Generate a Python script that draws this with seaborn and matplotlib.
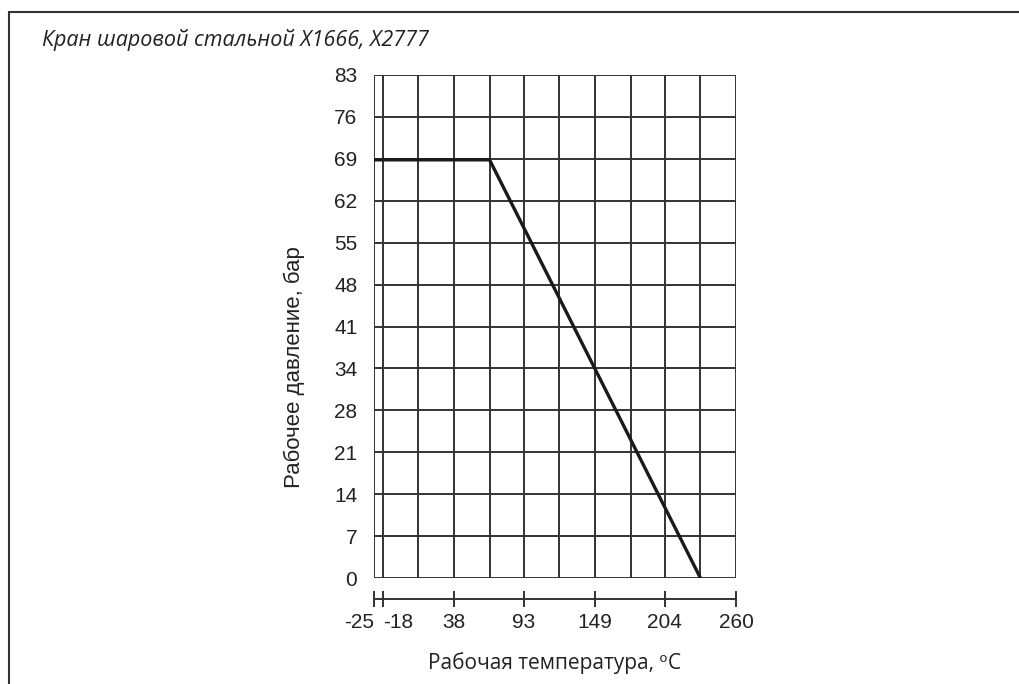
import matplotlib
matplotlib.use("Agg")
import matplotlib.pyplot as plt
import numpy as np
import pandas as pd
import seaborn as sns
from matplotlib.ticker import FixedLocator

# pressure / temperature rating curve
temperature_c = [-25, 66, 232]
pressure_bar = [69, 69, 0]

x_major = [-25, -18, 38, 93, 149, 204, 260]
x_minor = [10, 66, 121, 177, 232]
y_labels = ["0", "7", "14", "21", "28", "34", "41", "48", "55", "62", "69", "76", "83"]

title = "Кран шаровой стальной X1666, X2777"
x_title = "Рабочая температура, ᵒC"
y_title = "Рабочее давление, бар"

sns.set_theme(style="white")
plt.rcParams["font.family"] = ["Liberation Sans", "DejaVu Sans"]

df = pd.DataFrame({"t": temperature_c, "p": pressure_bar})

fig = plt.figure(figsize=(10.19, 6.84), dpi=100)
ax = fig.add_axes([374 / 1019, 1 - 578 / 684, (736 - 374) / 1019, (578 - 75) / 684])

grid_c = "#333333"
sns.lineplot(data=df, x="t", y="p", ax=ax, color="#1a1a1a", linewidth=2.4, zorder=5)

ax.set_xlim(-25, 260)
ax.set_ylim(0, 83)
ax.xaxis.set_major_locator(FixedLocator(x_major))
ax.xaxis.set_minor_locator(FixedLocator(x_minor))
ax.set_xticklabels([str(v) for v in x_major])
y_pos = np.linspace(0, 83, len(y_labels))
ax.set_yticks(y_pos)
ax.set_yticklabels(y_labels)

ax.grid(True, which="both", axis="x", color=grid_c, linewidth=1.4)
ax.grid(True, which="major", axis="y", color=grid_c, linewidth=1.4)
ax.set_axisbelow(True)

for s in ["top", "right", "left"]:
    ax.spines[s].set_visible(False)
ax.spines["bottom"].set_position(("outward", 15))
ax.spines["bottom"].set_color(grid_c)
ax.spines["bottom"].set_linewidth(1.4)
ax.tick_params(axis="x", which="major", direction="inout", length=12, width=1.4,
               color=grid_c, labelsize=15, labelcolor="#222222", pad=4, bottom=True)
ax.tick_params(axis="x", which="minor", length=0)
ax.tick_params(axis="y", length=0, labelsize=15, labelcolor="#222222", pad=12)

# the two leftmost labels sit either side of their ticks
xt = ax.get_xticklabels()
xt[0].set_horizontalalignment("right")
xt[1].set_horizontalalignment("left")

ax.set_xlabel(x_title, fontsize=15, family=["Open Sans", "DejaVu Sans"],
              color="#222222", labelpad=15)
ax.set_ylabel(y_title, fontsize=16, color="#222222")
ax.yaxis.set_label_coords(-0.19, 0.42)

fig.text(42 / 1019, 1 - 40 / 684, title, fontsize=15.5, style="italic",
         family=["Open Sans", "DejaVu Sans"], color="#222222", va="center")

# page frame: top and left rules
fig.add_artist(plt.Line2D([9 / 1019, 1], [1 - 12 / 684, 1 - 12 / 684],
                          transform=fig.transFigure, color="#333333", linewidth=1.5))
fig.add_artist(plt.Line2D([9 / 1019, 9 / 1019], [0, 1 - 12 / 684],
                          transform=fig.transFigure, color="#333333", linewidth=1.5))

fig.savefig("out.png", dpi=100, facecolor="white")
